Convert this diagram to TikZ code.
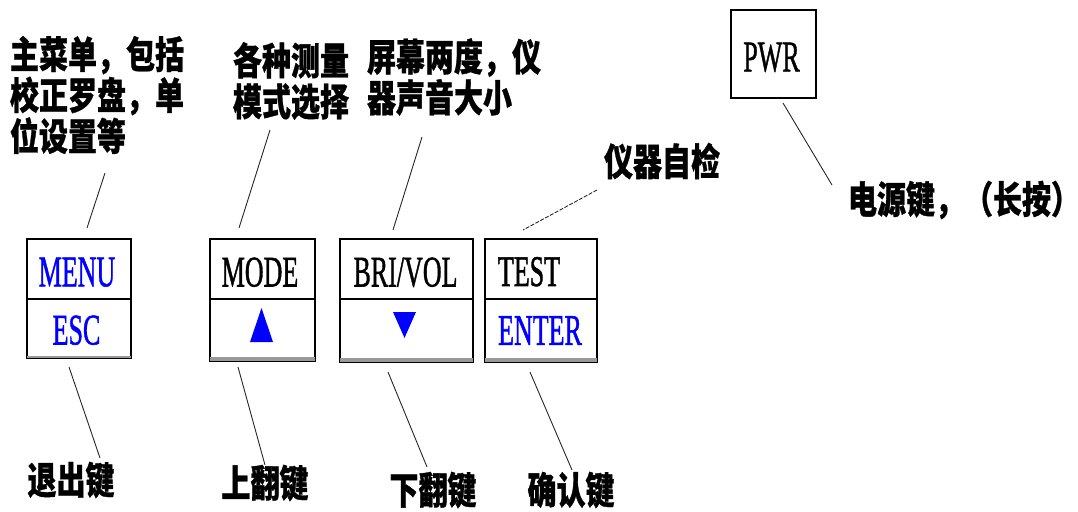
\documentclass[tikz,border=0pt]{standalone}
\usepackage{fontspec}
\usepackage{graphicx}
\usetikzlibrary{calc}
\setmainfont{Liberation Serif}[FakeBold=1.4]
\newfontfamily\cjkf{Noto Sans CJK SC}[FakeBold=1]
\definecolor{keyblue}{RGB}{0,0,255}
\newcommand{\Lat}[2][0pt]{\raisebox{#1}[\height][0pt]{\scalebox{1}[1.68]{\fontsize{26}{30}\selectfont #2}}}
\newcommand{\Zh}[1]{\scalebox{1}[1.3]{\fontsize{29}{31.5}\selectfont\cjkf\bfseries\vbox{\lineskiplimit=-100pt\halign{##\hfil\cr #1\crcr}}}}
\tikzset{
  keycell/.style={draw, line width=1.6pt, inner sep=0pt, minimum width=#1},
  lead/.style={line width=0.9pt, black!85},
  zh/.style={inner sep=0pt, anchor=center},
  shade band/.style={fill=black!40}
}
\begin{document}
\begin{tikzpicture}[x=1pt,y=-1pt]
\useasboundingbox (0,0) rectangle (1078,511);
% keys
\node[keycell=104pt, minimum height=60pt] (menu) at (79,269) {\textcolor{keyblue}{\Lat[-3pt]{MENU}}\hspace*{4pt}};
\node[keycell=104pt, minimum height=59pt] (esc) at (79,328.5) {\textcolor{keyblue}{\Lat[-1.5pt]{ESC}}\hspace*{5pt}};
\node[keycell=105pt, minimum height=60pt] (mode) at (262.5,269) {\Lat[-3pt]{MODE}\hspace*{5pt}};
\node[keycell=105pt, minimum height=62pt] (up) at (262.5,330) {};
\node[keycell=133pt, minimum height=60pt] (bri) at (406.5,269) {\Lat[-3pt]{BRI/VOL}\hspace*{2pt}};
\node[keycell=133pt, minimum height=63pt] (dn) at (406.5,330.5) {};
\node[keycell=112pt, minimum height=60pt] (test) at (541,269) {\Lat[-2.5pt]{TEST}\hspace*{24pt}};
\node[keycell=112pt, minimum height=63pt] (enter) at (541,330.5) {\textcolor{keyblue}{\Lat{ENTER}}\hspace*{2pt}};
\node[keycell=85pt, minimum height=88pt] (pwr) at (773.5,54) {\Lat[-3pt]{PWR}\hspace*{4pt}};
% grey bands just above the bottom edges
\fill[shade band] ($(esc.south west)+(0.8,-3.3)$) rectangle ($(esc.south east)+(-0.8,-0.8)$);
\fill[shade band] ($(up.south west)+(0.8,-4.8)$) rectangle ($(up.south east)+(-0.8,-0.8)$);
\fill[shade band] ($(dn.south west)+(0.8,-4.8)$) rectangle ($(dn.south east)+(-0.8,-0.8)$);
\fill[shade band] ($(enter.south west)+(0.8,-4.8)$) rectangle ($(enter.south east)+(-0.8,-0.8)$);
\fill[keyblue] (250,342) -- (273,342) -- (261.5,308) -- cycle;
\fill[keyblue] (393,312) -- (416,312) -- (404.5,338) -- cycle;
% labels
\node[zh] (l1) at (97,95) {\Zh{主菜单，包括\cr 校正罗盘，单\cr 位设置等}};
\node[zh] (l2) at (291,81) {\Zh{各种测量\cr 模式选择}};
\node[zh] (l3) at (454,77) {\Zh{屏幕两度，仪\cr 器声音大小}};
\node[zh] (l4) at (662,161) {\Zh{仪器自检}};
\node[zh] (l5) at (964,200) {\Zh{电源键，（长按）}};
\node[zh] (b1) at (71,480) {\Zh{退出键}};
\node[zh] (b2) at (265,483) {\Zh{上翻键}};
\node[zh] (b3) at (433,490) {\Zh{下翻键}};
\node[zh] (b4) at (571,490) {\Zh{确认键}};
% leader end points
\coordinate (c1a) at (105,173); \coordinate (c1b) at (87,228);
\coordinate (c2a) at (270,130); \coordinate (c2b) at (239,228);
\coordinate (c3a) at (422,137); \coordinate (c3b) at (393,230);
\coordinate (c4a) at (597,190); \coordinate (c4b) at (523,230);
\coordinate (c5a) at (783,103); \coordinate (c5b) at (832,185);
\coordinate (d1a) at (69,367);  \coordinate (d1b) at (100,458);
\coordinate (d2a) at (238,367); \coordinate (d2b) at (265,465);
\coordinate (d3a) at (388,372); \coordinate (d3b) at (427,467);
\coordinate (d4a) at (530,372); \coordinate (d4b) at (572,470);
\draw[lead] (c1a) -- (c1b);
\draw[lead] (c2a) -- (c2b);
\draw[lead] (c3a) -- (c3b);
\draw[lead, dash pattern=on 4pt off 1.5pt] (c4a) -- (c4b);
\draw[lead] (c5a) -- (c5b);
\draw[lead] (d1a) -- (d1b);
\draw[lead] (d2a) -- (d2b);
\draw[lead] (d3a) -- (d3b);
\draw[lead] (d4a) -- (d4b);
\end{tikzpicture}
\end{document}
